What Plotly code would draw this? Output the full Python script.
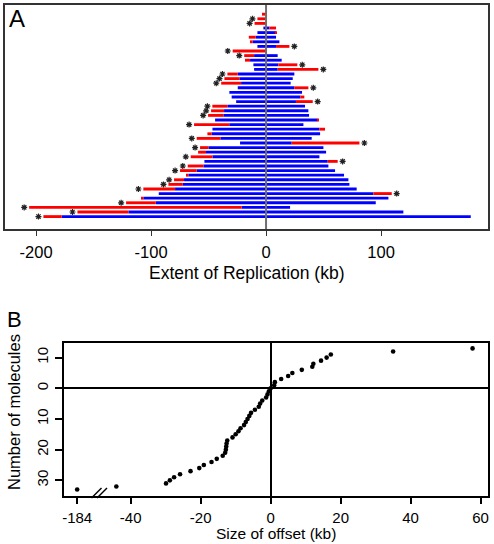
import plotly.graph_objects as go

# ---------------- Panel A data (kb) ----------------
# per molecule (top to bottom): left end, blue start, blue end, right end
left_end = [-3.5, -7.5, -10, -2.3, -7.5, -15, -13.3, -7.5, -29, -19, -18.3, -11, -10.4,
            -33.6, -36.2, -39, -24.6, -31.9, -29.9, -26, -46.7, -47.8, -50.4, -44.3, -62.6,
            -46.6, -51, -60.3, -22.6, -57.4, -59.1, -65.5, -53.6, -68.1, -74.8, -69.6, -80,
            -84.9, -106.7, -93.3, -108.4, -121.7, -206, -164, -193.6]
blue_start = [0, 0, 0, -2.3, -7.5, -9, -11.6, -7.5, 0, -10.4, -13.9, -11, -10.4,
              -24.6, -23.2, -21.7, -24.6, -31.9, -29.9, -26, -33.6, -36.5, -37.1, -44.3, -32,
              -46.6, -47.2, -39.7, -22.6, -50.1, -52.2, -46.6, -53.6, -54.4, -60.3, -67.5, -71.3,
              -72.4, -79.1, -93.3, -106.7, -95.9, -21.2, -119.7, -177.7]
blue_end = [0, 0, 0, 2.9, 8.5, 8.7, 11.6, 8.7, 0, 10.1, 13.6, 10.7, 10.1,
            24.6, 23.2, 21.4, 24.6, 31.3, 29.9, 26, 33.9, 36.8, 37.4, 44.6, 32.5,
            46.4, 47, 39.7, 22.3, 49.9, 52.2, 46.4, 53.6, 54.2, 60, 67.8, 71.6,
            72.5, 78.8, 93.3, 106.4, 95.4, 20.9, 119.4, 178]
right_end = [0, 0, 0, 8.7, 9.2, 8.7, 11.6, 20.3, 0, 10.1, 13.6, 27.2, 45.5,
             24.6, 23.2, 21.4, 36.8, 31.3, 33.3, 40.6, 33.9, 36.8, 37.4, 46, 32.5,
             51.3, 47, 39.7, 81.2, 49.9, 52.2, 46.4, 62.3, 54.2, 60, 67.8, 71.6,
             72.5, 78.8, 109.3, 106.4, 95.4, 20.9, 119.4, 178]
# asterisk side: "L", "R" or ""
asterisk = ["", "L", "L", "", "", "", "", "R", "L", "L", "", "R", "R",
            "L", "L", "L", "R", "", "", "R", "L", "L", "L", "", "L",
            "", "", "L", "R", "L", "", "L", "R", "L", "L", "", "L",
            "L", "L", "R", "", "L", "L", "L", "L"]
rows = list(range(1, len(left_end) + 1))
a_ticks = [-200, -100, 0, 100]

# ---------------- Panel B data ----------------
pos_offsets = [1.0, 1.2, 3.0, 5.0, 6.2, 8.9, 11.9, 12.2, 14.4, 16.0, 17.2, 35.0, 57.7]
zero_offsets = [0.0]
neg_offsets = [-0.5, -0.9, -1.3, -2.4, -3.0, -3.4, -4.5, -5.6, -6.1, -6.6, -7.1, -7.6, -8.6,
               -9.2, -10.0, -10.9, -12.4, -12.6, -12.7, -12.8, -13.0, -13.7, -15.4, -16.9,
               -19.1, -20.4, -22.9, -25.9, -27.6, -28.8, -29.9, -44.1, -184]
b_xticks = [-184, -40, -20, 0, 20, 40, 60]
b_yticks = [10, 0, -10, -20, -30]
BREAK_POS = -55.3  # display position of the broken-axis value

def bx(v):
    return BREAK_POS if v < -50 else v

FONT = "Liberation Sans, Arial, Helvetica, sans-serif"
BLUE = "#0000FF"
RED = "#FF0000"

fig = go.Figure()

# Panel A bars
bw = 0.62
lr_y, lr_base, lr_len = [], [], []
b_y, b_base, b_len = [], [], []
rr_y, rr_base, rr_len = [], [], []
for r, L, BL, BR, R in zip(rows, left_end, blue_start, blue_end, right_end):
    if BL > L:
        lr_y.append(r); lr_base.append(L); lr_len.append(BL - L)
    if BR > BL:
        b_y.append(r); b_base.append(BL); b_len.append(BR - BL)
    if R > BR:
        rr_y.append(r); rr_base.append(BR); rr_len.append(R - BR)

for yy, bb, ll, col in [(b_y, b_base, b_len, BLUE), (lr_y, lr_base, lr_len, RED),
                        (rr_y, rr_base, rr_len, RED)]:
    fig.add_trace(go.Bar(orientation="h", y=yy, x=ll, base=bb, width=bw,
                         marker=dict(color=col, line=dict(width=0)),
                         xaxis="x", yaxis="y", showlegend=False, hoverinfo="skip"))

ax, ay = [], []
for r, L, R, s in zip(rows, left_end, right_end, asterisk):
    if s == "L":
        ax.append(L - 4.3); ay.append(r)
    elif s == "R":
        ax.append(R + 4.3); ay.append(r)
fig.add_trace(go.Scatter(x=ax, y=ay, mode="markers", xaxis="x", yaxis="y",
                         marker=dict(symbol="asterisk-open", size=5, color="#222222",
                                     line=dict(width=1.2, color="#222222")),
                         showlegend=False, hoverinfo="skip"))

# Panel B points
px = [bx(v) for v in pos_offsets] + [bx(v) for v in zero_offsets] + [bx(v) for v in neg_offsets]
py = list(range(1, len(pos_offsets) + 1)) + [0] * len(zero_offsets) + \
     [-(i + 1) for i in range(len(neg_offsets))]
fig.add_trace(go.Scatter(x=px, y=py, mode="markers", xaxis="x2", yaxis="y2",
                         marker=dict(color="black", size=4.6),
                         showlegend=False, hoverinfo="skip"))

W, H = 494, 544
def pxx(p):
    return p / W
def pyy(p):
    return 1 - p / H

fig.update_layout(
    width=W, height=H, margin=dict(l=0, r=0, t=0, b=0, autoexpand=False),
    paper_bgcolor="white", plot_bgcolor="white", barmode="overlay",
    font=dict(family=FONT, color="black"),
    xaxis=dict(domain=[pxx(5), pxx(488)], range=[-227, 193], anchor="y", automargin=False,
               tickvals=a_ticks, ticktext=[str(t) for t in a_ticks],
               ticks="outside", ticklen=5, tickcolor="#333", tickwidth=1.2,
               showline=True, mirror=True, linecolor="#333", linewidth=1.6,
               showgrid=False, zeroline=False, tickfont=dict(size=16.5),
               ticklabelstandoff=2),
    yaxis=dict(domain=[pyy(229), pyy(5)], range=[47.7, -1.0], anchor="x", automargin=False,
               showticklabels=False, ticks="", showline=True, mirror=True,
               linecolor="#333", linewidth=1.6, showgrid=False, zeroline=False),
    xaxis2=dict(domain=[pxx(64), pxx(488.3)], range=[-59.06, 62.2], anchor="y2",
                automargin=False,
                tickvals=[bx(t) for t in b_xticks], ticktext=[str(t) for t in b_xticks],
                ticks="outside", ticklen=6, tickcolor="black", tickwidth=1.5,
                showline=True, mirror=True, linecolor="black", linewidth=2,
                showgrid=False, zeroline=True, zerolinecolor="black", zerolinewidth=1.5,
                tickfont=dict(size=15), ticklabelstandoff=1),
    yaxis2=dict(domain=[pyy(495.7), pyy(342.7)], range=[-35, 14.85], anchor="x2",
                automargin=False,
                tickvals=b_yticks, ticktext=[str(abs(t)) for t in b_yticks],
                ticks="outside", ticklen=7, tickcolor="black", tickwidth=1.5,
                tickangle=-90, showline=True, mirror=True, linecolor="black", linewidth=2,
                showgrid=False, zeroline=True, zerolinecolor="black", zerolinewidth=1.5,
                tickfont=dict(size=15), ticklabelstandoff=1),
)

# zero line in panel A (gray, above bars)
fig.add_shape(type="line", xref="x", yref="y domain", x0=0, x1=0, y0=0, y1=1,
              line=dict(color="#6e6e6e", width=2), layer="above")

# broken-axis slashes
for dx in (0, 5.5):
    fig.add_shape(type="line", xref="paper", yref="paper",
                  x0=pxx(91.5 + dx), y0=pyy(498), x1=pxx(101.5 + dx), y1=pyy(488),
                  line=dict(color="black", width=1.5), layer="above")

ann = [
    dict(text="A", x=pxx(17), y=pyy(19), size=24),
    dict(text="B", x=pxx(14), y=pyy(319), size=22),
    dict(text="Extent of Replication (kb)", x=pxx(247), y=pyy(273), size=17.5),
    dict(text="Size of offset (kb)", x=pxx(276), y=pyy(533.5), size=15.5),
]
for a in ann:
    fig.add_annotation(text=a["text"], x=a["x"], y=a["y"], xref="paper", yref="paper",
                       xanchor="center", yanchor="middle", showarrow=False,
                       font=dict(size=a["size"], family=FONT, color="black"))
fig.add_annotation(text="Number of molecules", x=pxx(13.5), y=pyy(412.5), xref="paper",
                   yref="paper", xanchor="center", yanchor="middle", showarrow=False,
                   textangle=-90, font=dict(size=16.5, family=FONT, color="black"))

fig.write_html("out.html", config={"displayModeBar": False},
               post_script="document.body.style.margin='0';document.body.style.padding='0';")
